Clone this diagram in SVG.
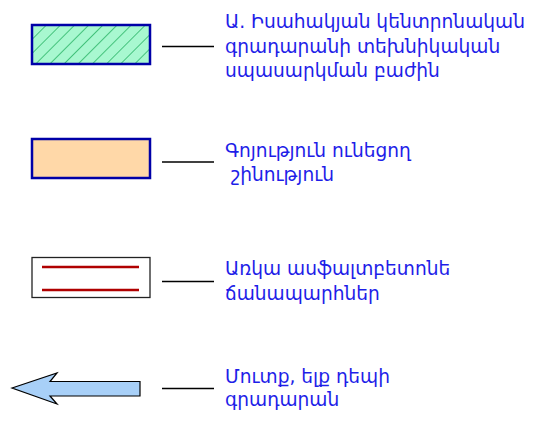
<svg xmlns="http://www.w3.org/2000/svg" width="556" height="427" viewBox="0 0 556 427">
<defs>
<pattern id="hatch" patternUnits="userSpaceOnUse" width="10" height="10" patternTransform="rotate(45)">
<line x1="0" y1="0" x2="0" y2="10" stroke="#22b060" stroke-width="1.5"/>
</pattern>
<style>
.lbl{font-family:"DejaVu Sans","Noto Sans",sans-serif;font-size:18.6px;fill:#1e1ee8}
.lead{stroke:#000;stroke-width:1.3}
</style>
</defs>
<rect width="556" height="427" fill="#fff"/>
<g id="legend-library">
<rect x="32" y="25" width="118" height="39" fill="#a8f8d0"/>
<rect x="32" y="25" width="118" height="39" fill="url(#hatch)" stroke="#0000a8" stroke-width="2.5"/>
<text class="lbl"><tspan x="225" y="28">Ա. Իսահակյան կենտրոնական</tspan><tspan x="225" y="52.5">գրադարանի տեխնիկական</tspan><tspan x="225" y="77">սպասարկման բաժին</tspan></text>
</g>
<g id="legend-building">
<rect x="32" y="139" width="118" height="39" fill="#ffd8a8" stroke="#0000a8" stroke-width="2.5"/>
<text class="lbl" xml:space="preserve"><tspan x="225" y="157">Գոյություն ունեցող</tspan><tspan x="225" y="181"> շինություն</tspan></text>
</g>
<g id="legend-road">
<rect x="32" y="257.5" width="118" height="40" fill="#fff" stroke="#222" stroke-width="1.3"/>
<line x1="42" y1="267" x2="139" y2="267" stroke="#b00000" stroke-width="2.5"/>
<line x1="42" y1="290" x2="139" y2="290" stroke="#b00000" stroke-width="2.5"/>
<text class="lbl"><tspan x="225" y="275">Առկա ասֆալտբետոնե</tspan><tspan x="225" y="300">ճանապարհներ</tspan></text>
</g>
<g id="legend-entrance">
<polygon points="12,388 57,373 50,381.5 140,381.5 140,396 50,396 57,404" fill="#a8d0f8" stroke="#000" stroke-width="1.2" stroke-linejoin="miter"/>
<text class="lbl"><tspan x="225" y="383">Մուտք, ելք դեպի</tspan><tspan x="225" y="406">գրադարան</tspan></text>
</g>
<g id="connectors">
<line class="lead" x1="162" y1="46.5" x2="214" y2="46.5"/>
<line class="lead" x1="162" y1="162" x2="214" y2="162"/>
<line class="lead" x1="162" y1="281.5" x2="214" y2="281.5"/>
<line class="lead" x1="162" y1="388.5" x2="214" y2="388.5"/>
</g>
</svg>
